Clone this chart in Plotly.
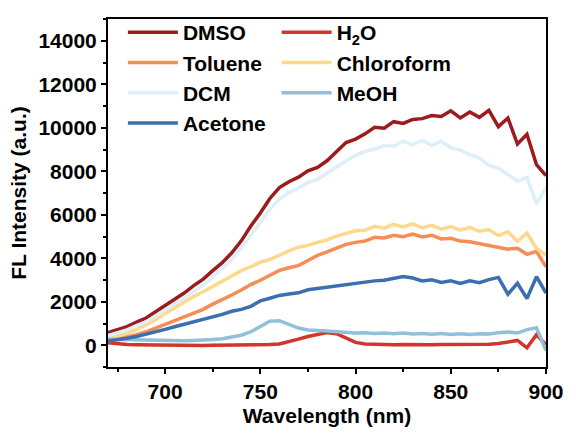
import plotly.graph_objects as go

wavelength = [670, 675, 680, 685, 690, 695, 700, 705, 710, 715, 720, 725, 730, 735, 740, 745,
              750, 755, 760, 765, 770, 775, 780, 785, 790, 795, 800, 805, 810, 815, 820, 825,
              830, 835, 840, 845, 850, 855, 860, 865, 870, 875, 880, 885, 890, 895, 900]

dmso = [580, 730, 860, 1060, 1250, 1540, 1820, 2120, 2400, 2740, 3040, 3430, 3800, 4250, 4800, 5480,
        6080, 6750, 7250, 7520, 7730, 8020, 8180, 8480, 8880, 9320, 9480, 9720, 10020, 9980, 10280, 10200,
        10380, 10420, 10560, 10520, 10780, 10450, 10720, 10480, 10800, 10050, 10450, 9250, 9700, 8300, 7800]

h2o = [110, 60, 30, 20, 10, 0, -10, 0, -10, 0, -10, 0, 0, 10, 0, 10,
       20, 30, 60, 150, 280, 400, 510, 590, 530, 310, 130, 60, 40, 30, 20, 30,
       20, 30, 20, 30, 30, 40, 30, 40, 50, 80, 130, 220, -120, 480, 20]

toluene = [200, 290, 370, 490, 620, 790, 950, 1160, 1320, 1490, 1650, 1890, 2090, 2310, 2540, 2790,
           2990, 3210, 3440, 3560, 3660, 3900, 4130, 4290, 4460, 4640, 4730, 4790, 4960, 4930, 5060, 4990,
           5110, 4980, 5060, 4890, 4920, 4790, 4760, 4680, 4620, 4530, 4420, 4460, 4180, 4320, 3600]

chloroform = [290, 400, 550, 720, 930, 1170, 1460, 1720, 2010, 2240, 2460, 2700, 2960, 3190, 3430, 3610,
              3820, 3940, 4160, 4340, 4510, 4590, 4730, 4840, 5020, 5140, 5260, 5290, 5470, 5380, 5560, 5440,
              5580, 5390, 5510, 5340, 5460, 5290, 5420, 5240, 5320, 5040, 5220, 4780, 5150, 4450, 4150]

dcm = [450, 590, 710, 900, 1070, 1340, 1610, 1910, 2170, 2470, 2770, 3160, 3530, 3960, 4480, 5070,
       5680, 6250, 6720, 7020, 7230, 7480, 7630, 7920, 8180, 8480, 8720, 8920, 9020, 9180, 9150, 9380,
       9220, 9420, 9180, 9380, 9080, 8980, 8760, 8620, 8280, 8150, 7850, 7550, 7720, 6500, 7250]

meoh = [280, 270, 260, 250, 230, 220, 210, 200, 210, 220, 230, 260, 300, 360, 460, 620,
        860, 1100, 1130, 950, 790, 700, 660, 650, 620, 580, 560, 580, 540, 560, 530, 560,
        520, 540, 510, 540, 500, 530, 500, 530, 520, 570, 610, 560, 720, 800, -250]

acetone = [200, 250, 320, 400, 500, 610, 730, 850, 960, 1060, 1190, 1300, 1420, 1560, 1650, 1790,
           2040, 2160, 2290, 2360, 2410, 2550, 2610, 2660, 2700, 2760, 2820, 2890, 2960, 2990, 3060, 3160,
           3090, 2960, 3010, 2890, 2960, 2840, 2960, 2880, 3020, 3120, 2350, 2850, 2150, 3150, 2400]

series = [
    ("DMSO", dmso, "#9B1C1C", "legend"),
    ("H<sub>2</sub>O", h2o, "#D2352B", "legend2"),
    ("Toluene", toluene, "#F68D55", "legend"),
    ("Chloroform", chloroform, "#FCD98B", "legend2"),
    ("DCM", dcm, "#DDEFF7", "legend"),
    ("MeOH", meoh, "#92BFDA", "legend2"),
    ("Acetone", acetone, "#3B6FB2", "legend"),
]

FONT = "Liberation Sans, Arial, sans-serif"

fig = go.Figure()
for name, vals, color, lg in series:
    fig.add_trace(go.Scatter(x=wavelength, y=vals, mode="lines", name=name,
                             line=dict(color=color, width=3.5), legend=lg))

legend_common = dict(xanchor="left", yanchor="top", bgcolor="rgba(0,0,0,0)",
                     font=dict(family=FONT, size=21, color="black", weight="bold"),
                     itemwidth=50, tracegroupgap=0, borderwidth=0)

fig.update_layout(
    width=576, height=436,
    margin=dict(l=108, r=21, t=12, b=65),
    paper_bgcolor="white", plot_bgcolor="white",
    font=dict(family=FONT, color="black"),
    legend=dict(x=0.034, y=1.02, **legend_common),
    legend2=dict(x=0.385, y=1.02, **legend_common),
    showlegend=True,
)

axis_common = dict(showline=True, linewidth=2, linecolor="black", mirror=True,
                   ticks="outside", ticklen=5, tickwidth=2, tickcolor="black",
                   showgrid=False, zeroline=False, tickformat="d",
                   tickfont=dict(family=FONT, size=21, color="black", weight="bold"))

fig.update_xaxes(range=[670, 900], dtick=50, tick0=700,
                 minor=dict(dtick=25, ticklen=3, tickwidth=2, tickcolor="black", ticks="outside"),
                 title=dict(text="Wavelength (nm)", standoff=6,
                            font=dict(family=FONT, size=21, color="black", weight="bold")),
                 **axis_common)
fig.update_yaxes(range=[-1000, 15000], dtick=2000, tick0=0,
                 minor=dict(dtick=1000, ticklen=3, tickwidth=2, tickcolor="black", ticks="outside"),
                 title=dict(text="FL Intensity (a.u.)", standoff=6,
                            font=dict(family=FONT, size=21, color="black", weight="bold")),
                 **axis_common)

fig.write_html("out.html")
